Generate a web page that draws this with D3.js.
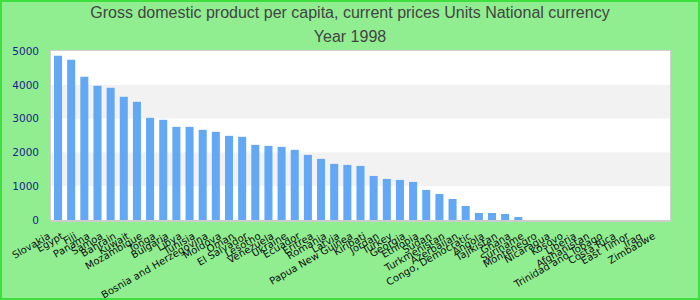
<!DOCTYPE html>
<html>
<head>
<meta charset="utf-8">
<script src="https://cdn.jsdelivr.net/npm/d3@7"></script>
<style>
  html, body { margin: 0; padding: 0; }
  body { width: 700px; height: 300px; overflow: hidden; }
</style>
</head>
<body>
<div id="chart"></div>
<script>
// chart values
const countries = [
  'Slovakia', 'Egypt', 'Fiji', 'Panama', 'Samoa', 'Bahrain', 'Kuwait', 'Mozambique',
  'Tonga', 'Bulgaria', 'Libya', 'Tunisia', 'Bosnia and Herzegovina', 'Moldova', 'Oman',
  'El Salvador', 'Lesotho', 'Venezuela', 'Ukraine', 'Ecuador', 'Eritrea', 'Romania',
  'Latvia', 'Papua New Guinea', 'Kiribati', 'Jordan', 'Turkey', 'Georgia', 'Ethiopia',
  'Sudan', 'Turkmenistan', 'Azerbaijan', 'Congo, Democratic', 'Angola', 'Tajikistan',
  'Ghana', 'Suriname', 'Montenegro', 'Nicaragua', 'Kosovo', 'Liberia', 'Afghanistan',
  'Trinidad and Tobago', 'Costa Rica', 'East Timor', 'Iraq', 'Zimbabwe'
];
const gdpValues = [
  4860, 4742, 4238, 3972, 3912, 3646, 3497, 3023,
  2964, 2756, 2756, 2667, 2608, 2490, 2460,
  2223, 2193, 2164, 2075, 1926, 1808, 1660,
  1630, 1600, 1304, 1215, 1185, 1126, 889,
  770, 622, 415, 207, 207, 178,
  89, 0, 0, 0, 0, 0, 0,
  0, 0, 0, 0, 0
];
const yTicks = [0, 1000, 2000, 3000, 4000, 5000];
const titleLines = ['Gross domestic product per capita, current prices Units National currency', 'Year 1998'];

const width = 700, height = 300;
const margin = { top: 51, right: 30, bottom: 80, left: 51 };

const data = countries.map((c, i) => ({ country: c, value: gdpValues[i] }));

const svg = d3.select('#chart')
  .append('svg')
  .attr('width', width)
  .attr('height', height)
  .attr('viewBox', `0 0 ${width} ${height}`);

// background + outer border
svg.append('rect')
  .attr('x', 1).attr('y', 1)
  .attr('width', width - 2).attr('height', height - 2)
  .attr('fill', '#90ee90')
  .attr('stroke', '#3ee03e')
  .attr('stroke-width', 2);

const x = d3.scaleBand()
  .domain(countries)
  .range([margin.left, width - margin.right])
  .paddingInner(0.39)
  .paddingOuter(0.23);

const y = d3.scaleLinear()
  .domain([0, 5000])
  .range([height - margin.bottom, margin.top]);

// plot area with alternating bands
svg.append('rect')
  .attr('x', margin.left).attr('y', margin.top)
  .attr('width', width - margin.left - margin.right)
  .attr('height', height - margin.top - margin.bottom)
  .attr('fill', '#fff');

const bands = d3.range(yTicks.length - 1).filter(i => i % 2 === 1);
svg.append('g').selectAll('rect')
  .data(bands)
  .join('rect')
  .attr('x', margin.left)
  .attr('width', width - margin.left - margin.right)
  .attr('y', i => y(yTicks[i + 1]))
  .attr('height', i => y(yTicks[i]) - y(yTicks[i + 1]))
  .attr('fill', '#f2f2f2');

svg.append('rect')
  .attr('x', margin.left - 0.5).attr('y', margin.top - 0.5)
  .attr('width', width - margin.left - margin.right + 1)
  .attr('height', height - margin.top - margin.bottom + 1)
  .attr('fill', 'none')
  .attr('stroke', '#d0d0d0');

// bars
svg.append('g').selectAll('rect')
  .data(data)
  .join('rect')
  .attr('x', d => x(d.country))
  .attr('width', x.bandwidth())
  .attr('y', d => y(d.value))
  .attr('height', d => y(0) - y(d.value))
  .attr('fill', '#62a8f4');

// bottom axis line
svg.append('line')
  .attr('x1', margin.left).attr('x2', width - margin.right)
  .attr('y1', y(0) + 1).attr('y2', y(0) + 1)
  .attr('stroke', '#cccccc')
  .attr('stroke-width', 2);

// y axis labels
const yAxis = svg.append('g')
  .attr('transform', `translate(${margin.left - 12},0)`)
  .call(d3.axisLeft(y).tickValues(yTicks).tickFormat(d3.format('d')).tickSize(0).tickPadding(0));
yAxis.select('.domain').remove();
yAxis.selectAll('text')
  .attr('fill', '#1c1c8a')
  .style('font-family', '"DejaVu Sans", sans-serif')
  .style('font-size', '10.5px');

// x axis labels, rotated
const xAxis = svg.append('g')
  .attr('transform', `translate(0,${y(0)})`)
  .call(d3.axisBottom(x).tickSize(0));
xAxis.select('.domain').remove();
xAxis.selectAll('text')
  .attr('y', 0)
  .attr('dy', 0)
  .attr('text-anchor', 'end')
  .attr('transform', 'translate(-7,18) rotate(-30)')
  .attr('fill', '#111')
  .style('font-family', '"DejaVu Sans", sans-serif')
  .style('font-size', '10px');

// title
svg.append('g').selectAll('text')
  .data(titleLines)
  .join('text')
  .attr('x', width / 2)
  .attr('y', (d, i) => 18 + i * 24)
  .attr('text-anchor', 'middle')
  .attr('fill', '#444')
  .style('font-family', '"Liberation Sans", Arial, sans-serif')
  .style('font-size', '16px')
  .text(d => d);
</script>
</body>
</html>
